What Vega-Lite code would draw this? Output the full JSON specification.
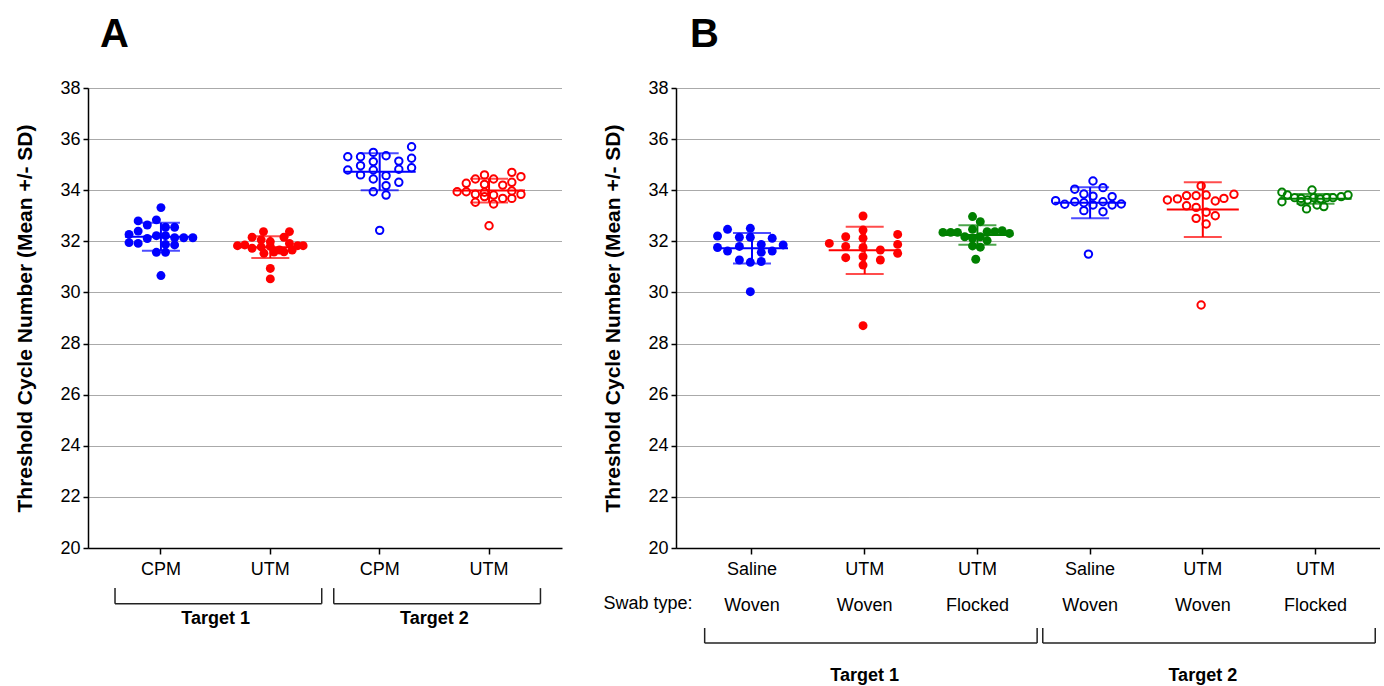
{
  "$schema": "https://vega.github.io/schema/vega-lite/v6.json",
  "padding": {"left": 14, "top": 15, "right": 0, "bottom": 0},
  "config": {
    "font": "Liberation Sans",
    "view": {"stroke": null},
    "axis": {"domainColor": "#000", "domainWidth": 1.5, "tickColor": "#000", "tickWidth": 1.5, "labelColor": "#000", "titleColor": "#000", "labelFont": "Liberation Sans", "titleFont": "Liberation Sans", "labelFontSize": 18},
    "title": {"font": "Liberation Sans", "fontSize": 40, "fontWeight": "bold", "anchor": "start", "color": "#000", "frame": "group"}
  },
  "datasets": {
    "a": [
      {"g":"T1|CPM","c":0,"ct":33.32,"f":1,"clr":"blue"},
      {"g":"T1|CPM","c":-2.5,"ct":32.80,"f":1,"clr":"blue"},
      {"g":"T1|CPM","c":-0.5,"ct":32.84,"f":1,"clr":"blue"},
      {"g":"T1|CPM","c":-1.5,"ct":32.64,"f":1,"clr":"blue"},
      {"g":"T1|CPM","c":0.5,"ct":32.55,"f":1,"clr":"blue"},
      {"g":"T1|CPM","c":1.5,"ct":32.55,"f":1,"clr":"blue"},
      {"g":"T1|CPM","c":-2.5,"ct":32.40,"f":1,"clr":"blue"},
      {"g":"T1|CPM","c":-3.5,"ct":32.27,"f":1,"clr":"blue"},
      {"g":"T1|CPM","c":-0.5,"ct":32.22,"f":1,"clr":"blue"},
      {"g":"T1|CPM","c":-1.5,"ct":32.11,"f":1,"clr":"blue"},
      {"g":"T1|CPM","c":0.5,"ct":32.22,"f":1,"clr":"blue"},
      {"g":"T1|CPM","c":1.5,"ct":32.14,"f":1,"clr":"blue"},
      {"g":"T1|CPM","c":2.5,"ct":32.14,"f":1,"clr":"blue"},
      {"g":"T1|CPM","c":3.5,"ct":32.14,"f":1,"clr":"blue"},
      {"g":"T1|CPM","c":-3.5,"ct":31.95,"f":1,"clr":"blue"},
      {"g":"T1|CPM","c":-2.5,"ct":31.92,"f":1,"clr":"blue"},
      {"g":"T1|CPM","c":0.5,"ct":31.88,"f":1,"clr":"blue"},
      {"g":"T1|CPM","c":1.5,"ct":31.86,"f":1,"clr":"blue"},
      {"g":"T1|CPM","c":-0.5,"ct":31.57,"f":1,"clr":"blue"},
      {"g":"T1|CPM","c":0.5,"ct":31.57,"f":1,"clr":"blue"},
      {"g":"T1|CPM","c":0,"ct":30.66,"f":1,"clr":"blue"},
      {"g":"T1|UTM","c":-0.75,"ct":32.38,"f":1,"clr":"red"},
      {"g":"T1|UTM","c":2.1,"ct":32.38,"f":1,"clr":"red"},
      {"g":"T1|UTM","c":-2,"ct":32.16,"f":1,"clr":"red"},
      {"g":"T1|UTM","c":-1,"ct":32.06,"f":1,"clr":"red"},
      {"g":"T1|UTM","c":0,"ct":31.99,"f":1,"clr":"red"},
      {"g":"T1|UTM","c":1.5,"ct":32.16,"f":1,"clr":"red"},
      {"g":"T1|UTM","c":-3.6,"ct":31.83,"f":1,"clr":"red"},
      {"g":"T1|UTM","c":-2.8,"ct":31.86,"f":1,"clr":"red"},
      {"g":"T1|UTM","c":-2,"ct":31.73,"f":1,"clr":"red"},
      {"g":"T1|UTM","c":-1,"ct":31.78,"f":1,"clr":"red"},
      {"g":"T1|UTM","c":0,"ct":31.80,"f":1,"clr":"red"},
      {"g":"T1|UTM","c":1,"ct":31.66,"f":1,"clr":"red"},
      {"g":"T1|UTM","c":2.1,"ct":31.92,"f":1,"clr":"red"},
      {"g":"T1|UTM","c":2.4,"ct":31.66,"f":1,"clr":"red"},
      {"g":"T1|UTM","c":3,"ct":31.83,"f":1,"clr":"red"},
      {"g":"T1|UTM","c":3.6,"ct":31.83,"f":1,"clr":"red"},
      {"g":"T1|UTM","c":-0.7,"ct":31.53,"f":1,"clr":"red"},
      {"g":"T1|UTM","c":0.4,"ct":31.58,"f":1,"clr":"red"},
      {"g":"T1|UTM","c":1.5,"ct":31.59,"f":1,"clr":"red"},
      {"g":"T1|UTM","c":0,"ct":30.94,"f":1,"clr":"red"},
      {"g":"T1|UTM","c":0,"ct":30.53,"f":1,"clr":"red"},
      {"g":"T2|CPM","c":3.5,"ct":35.70,"f":0,"clr":"blue"},
      {"g":"T2|CPM","c":-3.5,"ct":35.31,"f":0,"clr":"blue"},
      {"g":"T2|CPM","c":-2.1,"ct":35.31,"f":0,"clr":"blue"},
      {"g":"T2|CPM","c":-0.7,"ct":35.48,"f":0,"clr":"blue"},
      {"g":"T2|CPM","c":0.7,"ct":35.35,"f":0,"clr":"blue"},
      {"g":"T2|CPM","c":3.5,"ct":35.25,"f":0,"clr":"blue"},
      {"g":"T2|CPM","c":2.1,"ct":35.14,"f":0,"clr":"blue"},
      {"g":"T2|CPM","c":-0.7,"ct":35.12,"f":0,"clr":"blue"},
      {"g":"T2|CPM","c":-2.1,"ct":34.96,"f":0,"clr":"blue"},
      {"g":"T2|CPM","c":-3.5,"ct":34.79,"f":0,"clr":"blue"},
      {"g":"T2|CPM","c":-0.7,"ct":34.79,"f":0,"clr":"blue"},
      {"g":"T2|CPM","c":2.1,"ct":34.82,"f":0,"clr":"blue"},
      {"g":"T2|CPM","c":3.5,"ct":34.88,"f":0,"clr":"blue"},
      {"g":"T2|CPM","c":-2.1,"ct":34.60,"f":0,"clr":"blue"},
      {"g":"T2|CPM","c":-0.7,"ct":34.44,"f":0,"clr":"blue"},
      {"g":"T2|CPM","c":0.7,"ct":34.57,"f":0,"clr":"blue"},
      {"g":"T2|CPM","c":2.1,"ct":34.31,"f":0,"clr":"blue"},
      {"g":"T2|CPM","c":0.7,"ct":34.18,"f":0,"clr":"blue"},
      {"g":"T2|CPM","c":-0.7,"ct":33.94,"f":0,"clr":"blue"},
      {"g":"T2|CPM","c":0.7,"ct":33.81,"f":0,"clr":"blue"},
      {"g":"T2|CPM","c":0,"ct":32.43,"f":0,"clr":"blue"},
      {"g":"T2|UTM","c":2.5,"ct":34.70,"f":0,"clr":"red"},
      {"g":"T2|UTM","c":-0.5,"ct":34.60,"f":0,"clr":"red"},
      {"g":"T2|UTM","c":3.5,"ct":34.53,"f":0,"clr":"red"},
      {"g":"T2|UTM","c":-1.5,"ct":34.44,"f":0,"clr":"red"},
      {"g":"T2|UTM","c":0.5,"ct":34.44,"f":0,"clr":"red"},
      {"g":"T2|UTM","c":-2.5,"ct":34.27,"f":0,"clr":"red"},
      {"g":"T2|UTM","c":-0.5,"ct":34.23,"f":0,"clr":"red"},
      {"g":"T2|UTM","c":1.5,"ct":34.20,"f":0,"clr":"red"},
      {"g":"T2|UTM","c":2.5,"ct":34.31,"f":0,"clr":"red"},
      {"g":"T2|UTM","c":-3.5,"ct":33.94,"f":0,"clr":"red"},
      {"g":"T2|UTM","c":-2.5,"ct":33.94,"f":0,"clr":"red"},
      {"g":"T2|UTM","c":-1.5,"ct":33.84,"f":0,"clr":"red"},
      {"g":"T2|UTM","c":-0.5,"ct":33.92,"f":0,"clr":"red"},
      {"g":"T2|UTM","c":0.5,"ct":33.81,"f":0,"clr":"red"},
      {"g":"T2|UTM","c":2.5,"ct":33.97,"f":0,"clr":"red"},
      {"g":"T2|UTM","c":3.5,"ct":33.84,"f":0,"clr":"red"},
      {"g":"T2|UTM","c":-1.5,"ct":33.53,"f":0,"clr":"red"},
      {"g":"T2|UTM","c":0.5,"ct":33.46,"f":0,"clr":"red"},
      {"g":"T2|UTM","c":1.5,"ct":33.68,"f":0,"clr":"red"},
      {"g":"T2|UTM","c":2.5,"ct":33.68,"f":0,"clr":"red"},
      {"g":"T2|UTM","c":-0.5,"ct":33.75,"f":0,"clr":"red"},
      {"g":"T2|UTM","c":0,"ct":32.61,"f":0,"clr":"red"}
    ],
    "b": [
      {"g":"T1|Saline|Woven","c":-2.5,"ct":32.47,"f":1,"clr":"blue"},
      {"g":"T1|Saline|Woven","c":0,"ct":32.51,"f":1,"clr":"blue"},
      {"g":"T1|Saline|Woven","c":-3.6,"ct":32.21,"f":1,"clr":"blue"},
      {"g":"T1|Saline|Woven","c":-1.2,"ct":32.16,"f":1,"clr":"blue"},
      {"g":"T1|Saline|Woven","c":0,"ct":32.16,"f":1,"clr":"blue"},
      {"g":"T1|Saline|Woven","c":2.4,"ct":32.12,"f":1,"clr":"blue"},
      {"g":"T1|Saline|Woven","c":-3.6,"ct":31.76,"f":1,"clr":"blue"},
      {"g":"T1|Saline|Woven","c":-2.5,"ct":31.62,"f":1,"clr":"blue"},
      {"g":"T1|Saline|Woven","c":-1.2,"ct":31.80,"f":1,"clr":"blue"},
      {"g":"T1|Saline|Woven","c":1.2,"ct":31.88,"f":1,"clr":"blue"},
      {"g":"T1|Saline|Woven","c":1.2,"ct":31.57,"f":1,"clr":"blue"},
      {"g":"T1|Saline|Woven","c":2.4,"ct":31.62,"f":1,"clr":"blue"},
      {"g":"T1|Saline|Woven","c":3.6,"ct":31.86,"f":1,"clr":"blue"},
      {"g":"T1|Saline|Woven","c":-1.2,"ct":31.27,"f":1,"clr":"blue"},
      {"g":"T1|Saline|Woven","c":0,"ct":31.18,"f":1,"clr":"blue"},
      {"g":"T1|Saline|Woven","c":1.2,"ct":31.21,"f":1,"clr":"blue"},
      {"g":"T1|Saline|Woven","c":0,"ct":30.03,"f":1,"clr":"blue"},
      {"g":"T1|UTM|Woven","c":0,"ct":32.99,"f":1,"clr":"red"},
      {"g":"T1|UTM|Woven","c":0,"ct":32.44,"f":1,"clr":"red"},
      {"g":"T1|UTM|Woven","c":-1.9,"ct":32.18,"f":1,"clr":"red"},
      {"g":"T1|UTM|Woven","c":0,"ct":32.12,"f":1,"clr":"red"},
      {"g":"T1|UTM|Woven","c":3.8,"ct":32.27,"f":1,"clr":"red"},
      {"g":"T1|UTM|Woven","c":-3.7,"ct":31.92,"f":1,"clr":"red"},
      {"g":"T1|UTM|Woven","c":-1.9,"ct":31.80,"f":1,"clr":"red"},
      {"g":"T1|UTM|Woven","c":0,"ct":31.76,"f":1,"clr":"red"},
      {"g":"T1|UTM|Woven","c":3.8,"ct":31.88,"f":1,"clr":"red"},
      {"g":"T1|UTM|Woven","c":1.9,"ct":31.66,"f":1,"clr":"red"},
      {"g":"T1|UTM|Woven","c":3.8,"ct":31.53,"f":1,"clr":"red"},
      {"g":"T1|UTM|Woven","c":-1.9,"ct":31.36,"f":1,"clr":"red"},
      {"g":"T1|UTM|Woven","c":0,"ct":31.40,"f":1,"clr":"red"},
      {"g":"T1|UTM|Woven","c":1.9,"ct":31.27,"f":1,"clr":"red"},
      {"g":"T1|UTM|Woven","c":0,"ct":31.07,"f":1,"clr":"red"},
      {"g":"T1|UTM|Woven","c":0,"ct":28.70,"f":1,"clr":"red"},
      {"g":"T1|UTM|Flocked","c":-0.35,"ct":32.97,"f":1,"clr":"green"},
      {"g":"T1|UTM|Flocked","c":0.5,"ct":32.77,"f":1,"clr":"green"},
      {"g":"T1|UTM|Flocked","c":-0.35,"ct":32.47,"f":1,"clr":"green"},
      {"g":"T1|UTM|Flocked","c":-3.6,"ct":32.35,"f":1,"clr":"green"},
      {"g":"T1|UTM|Flocked","c":-2.75,"ct":32.35,"f":1,"clr":"green"},
      {"g":"T1|UTM|Flocked","c":-2,"ct":32.35,"f":1,"clr":"green"},
      {"g":"T1|UTM|Flocked","c":-1.2,"ct":32.18,"f":1,"clr":"green"},
      {"g":"T1|UTM|Flocked","c":1.25,"ct":32.38,"f":1,"clr":"green"},
      {"g":"T1|UTM|Flocked","c":2.1,"ct":32.38,"f":1,"clr":"green"},
      {"g":"T1|UTM|Flocked","c":2.9,"ct":32.42,"f":1,"clr":"green"},
      {"g":"T1|UTM|Flocked","c":3.7,"ct":32.31,"f":1,"clr":"green"},
      {"g":"T1|UTM|Flocked","c":-0.35,"ct":32.12,"f":1,"clr":"green"},
      {"g":"T1|UTM|Flocked","c":0.5,"ct":32.18,"f":1,"clr":"green"},
      {"g":"T1|UTM|Flocked","c":1.25,"ct":32.03,"f":1,"clr":"green"},
      {"g":"T1|UTM|Flocked","c":-0.35,"ct":31.82,"f":1,"clr":"green"},
      {"g":"T1|UTM|Flocked","c":0.5,"ct":31.77,"f":1,"clr":"green"},
      {"g":"T1|UTM|Flocked","c":0,"ct":31.30,"f":1,"clr":"green"},
      {"g":"T2|Saline|Woven","c":0.5,"ct":34.36,"f":0,"clr":"blue"},
      {"g":"T2|Saline|Woven","c":-1.5,"ct":34.04,"f":0,"clr":"blue"},
      {"g":"T2|Saline|Woven","c":1.6,"ct":34.10,"f":0,"clr":"blue"},
      {"g":"T2|Saline|Woven","c":-0.5,"ct":33.85,"f":0,"clr":"blue"},
      {"g":"T2|Saline|Woven","c":0.5,"ct":33.77,"f":0,"clr":"blue"},
      {"g":"T2|Saline|Woven","c":2.6,"ct":33.75,"f":0,"clr":"blue"},
      {"g":"T2|Saline|Woven","c":-3.6,"ct":33.59,"f":0,"clr":"blue"},
      {"g":"T2|Saline|Woven","c":-1.5,"ct":33.55,"f":0,"clr":"blue"},
      {"g":"T2|Saline|Woven","c":-0.5,"ct":33.51,"f":0,"clr":"blue"},
      {"g":"T2|Saline|Woven","c":1.6,"ct":33.55,"f":0,"clr":"blue"},
      {"g":"T2|Saline|Woven","c":-2.6,"ct":33.45,"f":0,"clr":"blue"},
      {"g":"T2|Saline|Woven","c":0.5,"ct":33.42,"f":0,"clr":"blue"},
      {"g":"T2|Saline|Woven","c":2.6,"ct":33.42,"f":0,"clr":"blue"},
      {"g":"T2|Saline|Woven","c":3.6,"ct":33.46,"f":0,"clr":"blue"},
      {"g":"T2|Saline|Woven","c":-0.5,"ct":33.20,"f":0,"clr":"blue"},
      {"g":"T2|Saline|Woven","c":1.6,"ct":33.16,"f":0,"clr":"blue"},
      {"g":"T2|Saline|Woven","c":0,"ct":31.50,"f":0,"clr":"blue"},
      {"g":"T2|UTM|Woven","c":0,"ct":34.17,"f":0,"clr":"red"},
      {"g":"T2|UTM|Woven","c":-3.7,"ct":33.62,"f":0,"clr":"red"},
      {"g":"T2|UTM|Woven","c":-2.6,"ct":33.66,"f":0,"clr":"red"},
      {"g":"T2|UTM|Woven","c":-1.6,"ct":33.79,"f":0,"clr":"red"},
      {"g":"T2|UTM|Woven","c":-0.55,"ct":33.79,"f":0,"clr":"red"},
      {"g":"T2|UTM|Woven","c":0.55,"ct":33.81,"f":0,"clr":"red"},
      {"g":"T2|UTM|Woven","c":1.55,"ct":33.58,"f":0,"clr":"red"},
      {"g":"T2|UTM|Woven","c":2.5,"ct":33.68,"f":0,"clr":"red"},
      {"g":"T2|UTM|Woven","c":3.6,"ct":33.84,"f":0,"clr":"red"},
      {"g":"T2|UTM|Woven","c":-1.6,"ct":33.39,"f":0,"clr":"red"},
      {"g":"T2|UTM|Woven","c":-0.55,"ct":33.33,"f":0,"clr":"red"},
      {"g":"T2|UTM|Woven","c":0.55,"ct":33.14,"f":0,"clr":"red"},
      {"g":"T2|UTM|Woven","c":-0.55,"ct":32.90,"f":0,"clr":"red"},
      {"g":"T2|UTM|Woven","c":1.55,"ct":33.00,"f":0,"clr":"red"},
      {"g":"T2|UTM|Woven","c":0.55,"ct":32.68,"f":0,"clr":"red"},
      {"g":"T2|UTM|Woven","c":0,"ct":29.51,"f":0,"clr":"red"},
      {"g":"T2|UTM|Flocked","c":-3.5,"ct":33.92,"f":0,"clr":"green"},
      {"g":"T2|UTM|Flocked","c":-0.2,"ct":34.01,"f":0,"clr":"green"},
      {"g":"T2|UTM|Flocked","c":-3.5,"ct":33.55,"f":0,"clr":"green"},
      {"g":"T2|UTM|Flocked","c":-2.9,"ct":33.81,"f":0,"clr":"green"},
      {"g":"T2|UTM|Flocked","c":-2.1,"ct":33.71,"f":0,"clr":"green"},
      {"g":"T2|UTM|Flocked","c":-1.4,"ct":33.68,"f":0,"clr":"green"},
      {"g":"T2|UTM|Flocked","c":-0.7,"ct":33.62,"f":0,"clr":"green"},
      {"g":"T2|UTM|Flocked","c":0,"ct":33.71,"f":0,"clr":"green"},
      {"g":"T2|UTM|Flocked","c":0.7,"ct":33.66,"f":0,"clr":"green"},
      {"g":"T2|UTM|Flocked","c":1.4,"ct":33.71,"f":0,"clr":"green"},
      {"g":"T2|UTM|Flocked","c":2.1,"ct":33.71,"f":0,"clr":"green"},
      {"g":"T2|UTM|Flocked","c":3,"ct":33.75,"f":0,"clr":"green"},
      {"g":"T2|UTM|Flocked","c":3.75,"ct":33.81,"f":0,"clr":"green"},
      {"g":"T2|UTM|Flocked","c":-1.4,"ct":33.55,"f":0,"clr":"green"},
      {"g":"T2|UTM|Flocked","c":-0.8,"ct":33.27,"f":0,"clr":"green"},
      {"g":"T2|UTM|Flocked","c":0.35,"ct":33.42,"f":0,"clr":"green"},
      {"g":"T2|UTM|Flocked","c":1.1,"ct":33.36,"f":0,"clr":"green"}
    ],
    "ba": [
      {"g0":"T1|CPM","g1":"T1|UTM","label":"Target 1"},
      {"g0":"T2|CPM","g1":"T2|UTM","label":"Target 2"}
    ],
    "bb": [
      {"g0":"T1|Saline|Woven","gm":"T1|UTM|Woven","g1":"T1|UTM|Flocked","label":"Target 1"},
      {"g0":"T2|Saline|Woven","gm":"T2|UTM|Woven","g1":"T2|UTM|Flocked","label":"Target 2"}
    ],
    "sw": [{"g":"T1|Saline|Woven","t":"Swab type:"}]
  },
  "hconcat": [
    {
      "width": 474,
      "height": 460,
      "title": {"text": "A", "dx": 12, "baseline": "alphabetic", "offset": -8},
      "layer": [
        {
          "data": {"name": "a"},
          "transform": [{"filter": "datum.f == 1"}],
          "mark": {"type": "point", "filled": true, "size": 80, "opacity": 1},
          "encoding": {
            "x": {"field": "g", "type": "nominal", "title": null,
              "scale": {"type": "band", "domain": ["T1|CPM","T1|UTM","T2|CPM","T2|UTM"], "paddingInner": 0, "paddingOuter": 0.167, "align": 0.5},
              "axis": {"labelExpr": "split(datum.label,'|')[1]", "labelAngle": 0, "tickSize": 6, "labelPadding": 6, "grid": false}},
            "xOffset": {"field": "c", "type": "quantitative", "scale": {"domain": [-6, 6]}},
            "y": {"field": "ct", "type": "quantitative", "title": "Threshold Cycle Number (Mean +/- SD)",
              "scale": {"domain": [20, 38], "nice": false, "zero": false},
              "axis": {"values": [20,22,24,26,28,30,32,34,36,38], "grid": true, "gridDash": [1, 1], "gridColor": "#555", "gridWidth": 1, "tickSize": 5, "labelPadding": 3, "titleFontSize": 21, "titleFontWeight": "bold", "titlePadding": 24}},
            "color": {"field": "clr", "type": "nominal", "legend": null, "scale": {"domain": ["blue","red","green"], "range": ["#0000ff","#ff0000","#008000"]}}
          }
        },
        {
          "data": {"name": "a"},
          "transform": [{"filter": "datum.f == 0"}],
          "mark": {"type": "point", "filled": false, "size": 55, "strokeWidth": 2, "opacity": 1},
          "encoding": {
            "x": {"field": "g", "type": "nominal", "title": null},
            "xOffset": {"field": "c", "type": "quantitative"},
            "y": {"field": "ct", "type": "quantitative", "title": "Threshold Cycle Number (Mean +/- SD)"},
            "color": {"field": "clr", "type": "nominal", "legend": null}
          }
        },
        {
          "data": {"name": "a"},
          "mark": {"type": "errorbar", "extent": "stdev", "thickness": 2, "ticks": {"size": 38, "thickness": 2}},
          "encoding": {
            "x": {"field": "g", "type": "nominal", "title": null},
            "y": {"field": "ct", "type": "quantitative", "title": "Threshold Cycle Number (Mean +/- SD)"},
            "color": {"field": "clr", "type": "nominal", "legend": null}
          }
        },
        {
          "data": {"name": "a"},
          "mark": {"type": "tick", "size": 72, "thickness": 2, "opacity": 1},
          "encoding": {
            "x": {"field": "g", "type": "nominal", "title": null},
            "y": {"aggregate": "mean", "field": "ct", "type": "quantitative", "title": "Threshold Cycle Number (Mean +/- SD)"},
            "color": {"field": "clr", "type": "nominal", "legend": null}
          }
        },
        {
          "data": {"name": "ba"},
          "mark": {"type": "rule", "color": "#222", "strokeWidth": 1.5},
          "encoding": {
            "x": {"field": "g0", "type": "nominal", "bandPosition": 0.08, "title": null},
            "x2": {"field": "g1", "bandPosition": 0.97},
            "y": {"datum": 17.82}
          }
        },
        {
          "data": {"name": "ba"},
          "mark": {"type": "rule", "color": "#222", "strokeWidth": 1.5},
          "encoding": {
            "x": {"field": "g0", "type": "nominal", "bandPosition": 0.08, "title": null},
            "y": {"datum": 18.43},
            "y2": {"datum": 17.82}
          }
        },
        {
          "data": {"name": "ba"},
          "mark": {"type": "rule", "color": "#222", "strokeWidth": 1.5},
          "encoding": {
            "x": {"field": "g1", "type": "nominal", "bandPosition": 0.97, "title": null},
            "y": {"datum": 18.43},
            "y2": {"datum": 17.82}
          }
        },
        {
          "data": {"name": "ba"},
          "mark": {"type": "text", "fontSize": 18, "fontWeight": "bold", "baseline": "middle", "color": "#000"},
          "encoding": {
            "x": {"field": "g1", "type": "nominal", "bandPosition": 0, "title": null},
            "y": {"datum": 17.22},
            "text": {"field": "label"}
          }
        }
      ]
    },
    {
      "width": 704,
      "height": 460,
      "title": {"text": "B", "dx": 14, "baseline": "alphabetic", "offset": -8},
      "layer": [
        {
          "data": {"name": "b"},
          "transform": [{"filter": "datum.f == 1"}],
          "mark": {"type": "point", "filled": true, "size": 80, "opacity": 1},
          "encoding": {
            "x": {"field": "g", "type": "nominal", "title": null,
              "scale": {"type": "band", "domain": ["T1|Saline|Woven","T1|UTM|Woven","T1|UTM|Flocked","T2|Saline|Woven","T2|UTM|Woven","T2|UTM|Flocked"], "paddingInner": 0, "paddingOuter": 0.1233, "align": 0.707},
              "axis": {"labelExpr": "slice(split(datum.label,'|'),1)", "labelAngle": 0, "tickSize": 6, "labelPadding": 6, "labelLineHeight": 36, "grid": false}},
            "xOffset": {"field": "c", "type": "quantitative", "scale": {"domain": [-6, 6]}},
            "y": {"field": "ct", "type": "quantitative", "title": "Threshold Cycle Number (Mean +/- SD)",
              "scale": {"domain": [20, 38], "nice": false, "zero": false},
              "axis": {"values": [20,22,24,26,28,30,32,34,36,38], "grid": true, "gridDash": [1, 1], "gridColor": "#555", "gridWidth": 1, "tickSize": 5, "labelPadding": 3, "titleFontSize": 21, "titleFontWeight": "bold", "titlePadding": 24}},
            "color": {"field": "clr", "type": "nominal", "legend": null, "scale": {"domain": ["blue","red","green"], "range": ["#0000ff","#ff0000","#008000"]}}
          }
        },
        {
          "data": {"name": "b"},
          "transform": [{"filter": "datum.f == 0"}],
          "mark": {"type": "point", "filled": false, "size": 55, "strokeWidth": 2, "opacity": 1},
          "encoding": {
            "x": {"field": "g", "type": "nominal", "title": null},
            "xOffset": {"field": "c", "type": "quantitative"},
            "y": {"field": "ct", "type": "quantitative", "title": "Threshold Cycle Number (Mean +/- SD)"},
            "color": {"field": "clr", "type": "nominal", "legend": null}
          }
        },
        {
          "data": {"name": "b"},
          "mark": {"type": "errorbar", "extent": "stdev", "thickness": 2, "ticks": {"size": 38, "thickness": 2}},
          "encoding": {
            "x": {"field": "g", "type": "nominal", "title": null},
            "y": {"field": "ct", "type": "quantitative", "title": "Threshold Cycle Number (Mean +/- SD)"},
            "color": {"field": "clr", "type": "nominal", "legend": null}
          }
        },
        {
          "data": {"name": "b"},
          "mark": {"type": "tick", "size": 72, "thickness": 2, "opacity": 1},
          "encoding": {
            "x": {"field": "g", "type": "nominal", "title": null},
            "y": {"aggregate": "mean", "field": "ct", "type": "quantitative", "title": "Threshold Cycle Number (Mean +/- SD)"},
            "color": {"field": "clr", "type": "nominal", "legend": null}
          }
        },
        {
          "data": {"name": "sw"},
          "mark": {"type": "text", "fontSize": 18, "baseline": "middle", "dx": -104, "color": "#000"},
          "encoding": {
            "x": {"field": "g", "type": "nominal", "title": null},
            "y": {"datum": 17.81},
            "text": {"field": "t"}
          }
        },
        {
          "data": {"name": "bb"},
          "mark": {"type": "rule", "color": "#222", "strokeWidth": 1.5},
          "encoding": {
            "x": {"field": "g0", "type": "nominal", "bandPosition": 0.08, "title": null},
            "x2": {"field": "g1", "bandPosition": 1.03},
            "y": {"datum": 16.28}
          }
        },
        {
          "data": {"name": "bb"},
          "mark": {"type": "rule", "color": "#222", "strokeWidth": 1.5},
          "encoding": {
            "x": {"field": "g0", "type": "nominal", "bandPosition": 0.08, "title": null},
            "y": {"datum": 16.87},
            "y2": {"datum": 16.28}
          }
        },
        {
          "data": {"name": "bb"},
          "mark": {"type": "rule", "color": "#222", "strokeWidth": 1.5},
          "encoding": {
            "x": {"field": "g1", "type": "nominal", "bandPosition": 1.03, "title": null},
            "y": {"datum": 16.87},
            "y2": {"datum": 16.28}
          }
        },
        {
          "data": {"name": "bb"},
          "mark": {"type": "text", "fontSize": 18, "fontWeight": "bold", "baseline": "middle", "color": "#000"},
          "encoding": {
            "x": {"field": "gm", "type": "nominal", "title": null},
            "y": {"datum": 14.99},
            "text": {"field": "label"}
          }
        }
      ]
    }
  ],
  "spacing": 114,
  "bounds": "flush"
}
